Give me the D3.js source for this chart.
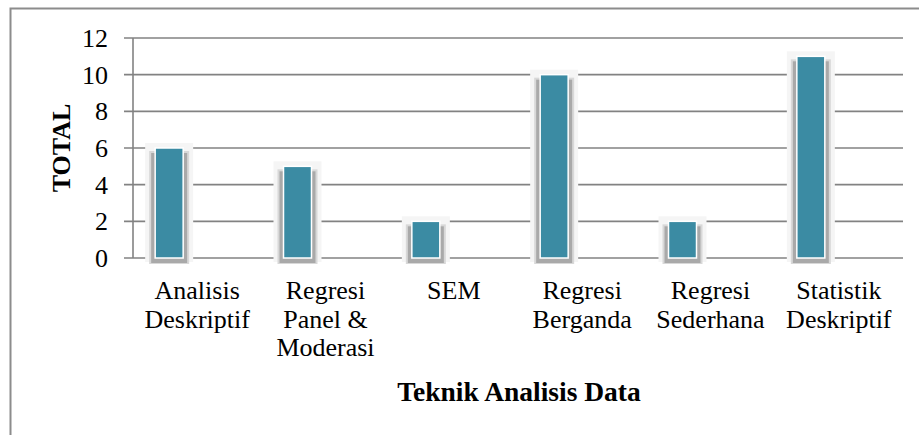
<!DOCTYPE html>
<html><head><meta charset="utf-8">
<script src="https://cdn.jsdelivr.net/npm/d3@7"></script>
<style>html,body{margin:0;padding:0;background:#fff;}svg{display:block;}</style>
</head><body>
<svg id="c" width="919" height="435"></svg>
<script>
const categories = [["Analisis","Deskriptif"],["Regresi","Panel &","Moderasi"],["SEM"],["Regresi","Berganda"],["Regresi","Sederhana"],["Statistik","Deskriptif"]];
const values = [6,5,2,10,2,11];
const yTicks = [0,2,4,6,8,10,12];
const yTitle = "TOTAL";
const xTitle = "Teknik Analisis Data";

const svg = d3.select("#c");
const font = "Liberation Serif";
svg.append("rect").attr("x",10.5).attr("y",8.5).attr("width",930).attr("height",450)
  .attr("fill","#fff").attr("stroke","#8c8c8c").attr("stroke-width",2);

const x = d3.scaleBand().domain(d3.range(categories.length)).range([133,903]).padding(0);
const y = d3.scaleLinear().domain([0,12]).range([258,38]);

// gridlines
svg.append("g").selectAll("line").data(yTicks).join("line")
  .attr("x1",124).attr("x2",903).attr("y1",d=>y(d)).attr("y2",d=>y(d))
  .attr("stroke","#828282").attr("stroke-width",1.6);
svg.append("line").attr("x1",133).attr("x2",133).attr("y1",y(12)).attr("y2",y(0))
  .attr("stroke","#828282").attr("stroke-width",1.6);

const bw = 28;
const bx = i => x(i) + x.bandwidth()/2 - 28 - bw/2;
const g = svg.append("g");
values.forEach((v,i)=>{
  const x0 = bx(i), yt = y(v), yb = y(0);
  g.append("rect").attr("x",x0-10).attr("y",yt-5).attr("width",bw+20).attr("height",yb-yt+9)
    .attr("fill","#f5f5f5");
  g.append("rect").attr("x",x0-6).attr("y",yt+3).attr("width",bw+12).attr("height",yb-yt+3)
    .attr("fill","#d8d8d8");
  g.append("rect").attr("x",x0-4).attr("y",yt+5).attr("width",bw+8).attr("height",yb-yt)
    .attr("fill","#a9a9a9");
  g.append("rect").attr("x",x0).attr("y",yt).attr("width",bw).attr("height",yb-yt)
    .attr("fill","#3b8ba3").attr("stroke","#fff").attr("stroke-width",1.5);
});

// y tick labels
svg.append("g").selectAll("text").data(yTicks).join("text")
  .attr("x",108).attr("y",d=>y(d)+9).attr("text-anchor","end")
  .style("font-family",font).style("font-size","26px").attr("fill","#000").text(d=>d);

// category labels
const cl = svg.append("g");
categories.forEach((lines,i)=>{
  const t = cl.append("text").attr("text-anchor","middle").style("font-family",font)
    .style("font-size","26px").attr("fill","#000");
  lines.forEach((s,j)=>{
    t.append("tspan").attr("x",x(i)+x.bandwidth()/2).attr("y",299+j*28.5).text(s);
  });
});

svg.append("text").attr("transform","translate(70,148) rotate(-90)").attr("text-anchor","middle")
  .style("font-family",font).style("font-size","26px").style("font-weight","bold").text(yTitle);
svg.append("text").attr("x",519).attr("y",401).attr("text-anchor","middle")
  .style("font-family",font).style("font-size","27.5px").style("font-weight","bold").text(xTitle);
</script>
</body></html>
